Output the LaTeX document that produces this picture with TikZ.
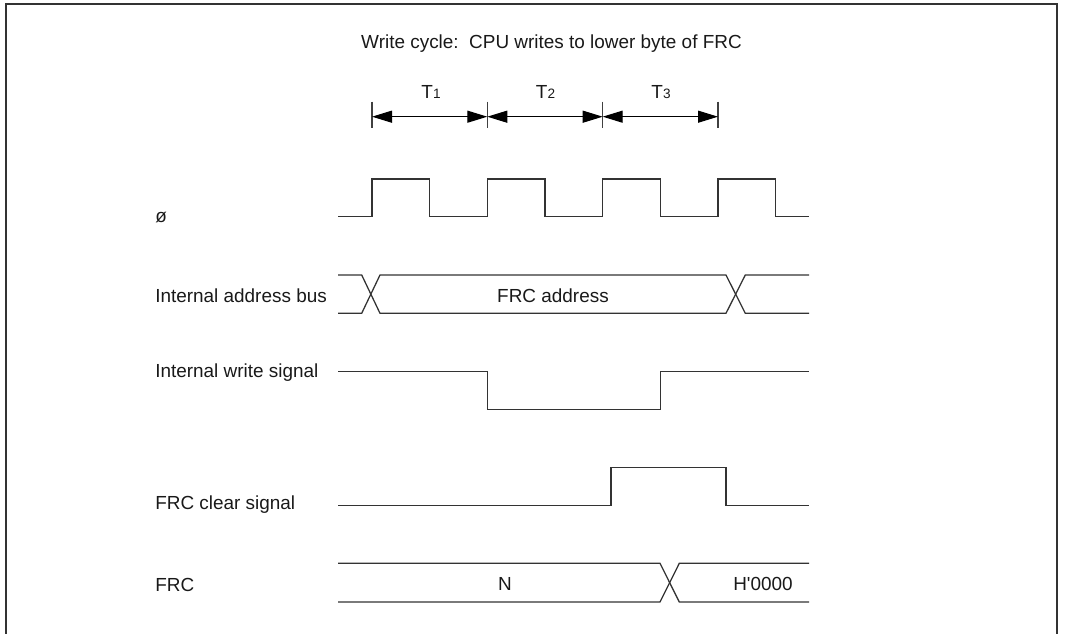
\documentclass[tikz,border=0pt]{standalone}
\usepackage{fontspec}
\setmainfont{Liberation Sans}
\newfontfamily\rawfont{Liberation Sans}
\usetikzlibrary{arrows.meta}
\newcommand\tsub[1]{\raisebox{-0.6pt}{\fontsize{10.2}{10}\selectfont #1}}
\begin{document}
\begin{tikzpicture}[x=0.75pt,y=-0.75pt,
  lbl/.style={font=\fontsize{14.2}{16}\selectfont, inner sep=0pt, text=black!90},
  sig/.style={line width=0.95pt, draw=black!80, line join=miter},
  tickln/.style={line width=0.8pt, draw=black!75},
  dim/.style={line width=0.9pt, draw=black, {Triangle[length=15pt,width=9pt]}-{Triangle[length=15pt,width=9pt]}}]
\useasboundingbox (0,0) rectangle (1065,634);
\draw[line width=1.5pt, draw=black!80] (6,4) rectangle (1057,635);

\node[lbl] (title) at (551.5,44) {Write cycle:\ \ CPU writes to lower byte of FRC};

% period markers
\coordinate (k0) at (372,116.7);
\coordinate (k1) at (487.3,116.7);
\coordinate (k2) at (602.7,116.7);
\coordinate (k3) at (718,116.7);
\foreach \c in {k0,k1,k2,k3}{
  \draw[tickln] ([yshift=11.25pt]\c) -- ([yshift=-8.7pt]\c);
}
\draw[dim] (k0) -- (k1);
\draw[dim] (k1) -- (k2);
\draw[dim] (k2) -- (k3);
\node[lbl] (T1) at (431,92) {T\tsub{1}};
\node[lbl] (T2) at (545.5,92) {T\tsub{2}};
\node[lbl] (T3) at (661,92) {T\tsub{3}};

% labels
\node[lbl, anchor=west] (Lphi) at (155,218) {ø};
\node[lbl, anchor=west] (Laddr) at (155,296) {Internal address bus};
\node[lbl, anchor=west] (Lwr) at (155,373) {Internal write signal};
\node[lbl, anchor=west] (Lclr) at (155,505) {FRC clear signal};
\node[lbl, anchor=west] (Lfrc) at (155,585) {FRC};

% clock
\draw[sig] (338,216.7) -- (372,216.7) -- (372,179) -- (429.7,179) -- (429.7,216.7)
  -- (487.3,216.7) -- (487.3,179) -- (545,179) -- (545,216.7)
  -- (602.7,216.7) -- (602.7,179) -- (660.3,179) -- (660.3,216.7)
  -- (718,216.7) -- (718,179) -- (775.7,179) -- (775.7,216.7) -- (809,216.7);

% address bus
\draw[sig] (338,275) -- (361.7,275) -- (380,313.3) -- (726,313.3) -- (745.3,275) -- (809,275);
\draw[sig] (338,313.3) -- (361.7,313.3) -- (380,275) -- (726,275) -- (745.3,313.3) -- (809,313.3);
\node[lbl] (addr) at (553,296) {FRC address};

% write signal
\draw[sig] (338,371.7) -- (487.3,371.7) -- (487.3,409.3) -- (660.7,409.3) -- (660.7,371.7) -- (809,371.7);

% FRC clear
\draw[sig] (338,505.5) -- (611,505.5) -- (611,467.5) -- (726,467.5) -- (726,505.5) -- (809,505.5);

% FRC
\draw[sig] (338,563.3) -- (660,563.3) -- (679.3,602) -- (809,602);
\draw[sig] (338,602) -- (660,602) -- (679.3,563.3) -- (809,563.3);
\node[lbl] (N) at (505,584) {N};
\node[lbl] (H) at (763,584) {H{\rawfont'}0000};
\end{tikzpicture}
\end{document}
